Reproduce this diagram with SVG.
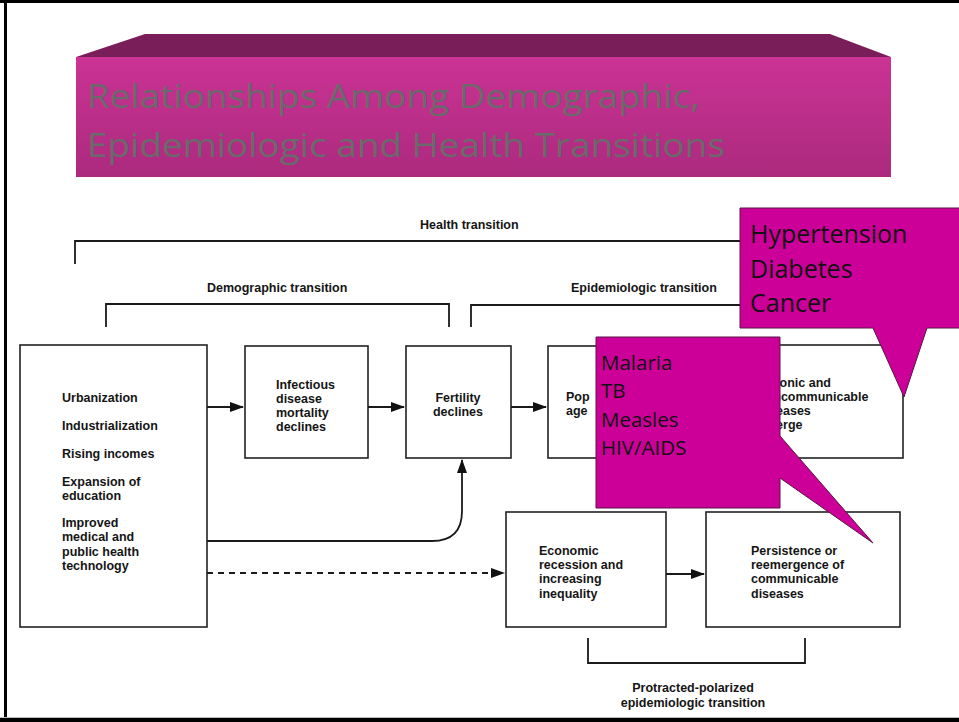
<svg xmlns="http://www.w3.org/2000/svg" width="959" height="722" viewBox="0 0 959 722">
<defs>
<linearGradient id="front" x1="0" y1="0" x2="0" y2="1">
<stop offset="0" stop-color="#cb3395"/>
<stop offset="1" stop-color="#ab2a7e"/>
</linearGradient>
<marker id="ah" viewBox="0 0 14 10" refX="13" refY="5" markerWidth="14" markerHeight="10" markerUnits="userSpaceOnUse" orient="auto">
<path d="M0,0 L14,5 L0,10 Z" fill="#111"/>
</marker>
<style>
.box{fill:#fff;stroke:#222;stroke-width:1.6}
.t{font-family:"Liberation Sans",Arial,sans-serif;font-size:12.5px;font-weight:bold;fill:#151515}
.ln{fill:none;stroke:#1a1a1a;stroke-width:1.8}
.call{fill:#cc0099;stroke:#5a1545;stroke-width:1}
.ct{font-family:"Open Sans","Noto Sans",sans-serif;fill:#111}
</style>
</defs>
<rect x="0" y="0" width="959" height="722" fill="#fff"/>
<g id="frame">
<rect x="0" y="0" width="959" height="3" fill="#000"/>
<rect x="4" y="0" width="3" height="722" fill="#000"/>
<rect x="0" y="717" width="959" height="1" fill="#bbb"/>
<rect x="0" y="718" width="959" height="4" fill="#000"/>
</g>
<g id="title">
<polygon points="145,34 830,34 891,57 76,57" fill="#7a1e59"/>
<rect x="76" y="57" width="815" height="120" fill="url(#front)"/>
<text x="87" y="108" font-family="'Open Sans','Noto Sans',sans-serif" font-size="33" fill="#6a6a6a" textLength="613" lengthAdjust="spacingAndGlyphs">Relationships Among Demographic,</text>
<text x="87" y="157" font-family="'Open Sans','Noto Sans',sans-serif" font-size="33" fill="#6a6a6a" textLength="638" lengthAdjust="spacingAndGlyphs">Epidemiologic and Health Transitions</text>
</g>
<g id="brackets">
<polyline class="ln" points="75,264 75,241 745,241"/>
<polyline class="ln" points="106,327 106,304 449,304 449,327"/>
<polyline class="ln" points="471,327 471,305 745,305"/>
<polyline class="ln" points="588,638 588,663 805,663 805,638"/>
<text class="t" x="420" y="229">Health transition</text>
<text class="t" x="207" y="292">Demographic transition</text>
<text class="t" x="571" y="292">Epidemiologic transition</text>
<text class="t" x="693" y="692" text-anchor="middle">Protracted-polarized</text>
<text class="t" x="693" y="707" text-anchor="middle">epidemiologic transition</text>
</g>
<g id="determinants">
<rect class="box" x="20" y="345" width="187" height="282"/>
<text class="t" x="62" y="402">Urbanization</text>
<text class="t" x="62" y="430">Industrialization</text>
<text class="t" x="62" y="458">Rising incomes</text>
<text class="t" x="62" y="486">Expansion of</text>
<text class="t" x="62" y="500">education</text>
<text class="t" x="62" y="527">Improved</text>
<text class="t" x="62" y="541">medical and</text>
<text class="t" x="62" y="556">public health</text>
<text class="t" x="62" y="570">technology</text>
</g>
<g id="infectious">
<rect class="box" x="245" y="346" width="123" height="112"/>
<text class="t" x="276" y="389">Infectious</text>
<text class="t" x="276" y="403">disease</text>
<text class="t" x="276" y="417">mortality</text>
<text class="t" x="276" y="431">declines</text>
</g>
<g id="fertility">
<rect class="box" x="406" y="346" width="105" height="112"/>
<text class="t" x="458" y="402" text-anchor="middle">Fertility</text>
<text class="t" x="458" y="416" text-anchor="middle">declines</text>
</g>
<g id="aging">
<rect class="box" x="548" y="346" width="140" height="112"/>
<text class="t" x="566" y="401">Pop</text>
<text class="t" x="566" y="415">age</text>
</g>
<g id="chronic">
<rect class="box" x="722" y="345" width="181" height="113"/>
<text class="t" x="758" y="387">Chronic and</text>
<text class="t" x="758" y="401">noncommunicable</text>
<text class="t" x="758" y="415">diseases</text>
<text class="t" x="758" y="429">emerge</text>
</g>
<g id="recession">
<rect class="box" x="506" y="512" width="160" height="115"/>
<text class="t" x="539" y="555">Economic</text>
<text class="t" x="539" y="569">recession and</text>
<text class="t" x="539" y="583">increasing</text>
<text class="t" x="539" y="598">inequality</text>
</g>
<g id="persistence">
<rect class="box" x="706" y="512" width="194" height="115"/>
<text class="t" x="751" y="555">Persistence or</text>
<text class="t" x="751" y="569">reemergence of</text>
<text class="t" x="751" y="583">communicable</text>
<text class="t" x="751" y="598">diseases</text>
</g>
<g id="connectors">
<line class="ln" x1="207" y1="407" x2="243" y2="407" marker-end="url(#ah)"/>
<line class="ln" x1="368" y1="407" x2="404" y2="407" marker-end="url(#ah)"/>
<line class="ln" x1="511" y1="407" x2="546" y2="407" marker-end="url(#ah)"/>
<path class="ln" d="M207,541 L432,541 Q462,541 462,511 L462,460" marker-end="url(#ah)"/>
<line class="ln" x1="207" y1="573" x2="504" y2="573" stroke-dasharray="6,5" marker-end="url(#ah)"/>
<line class="ln" x1="666" y1="574" x2="704" y2="574" marker-end="url(#ah)"/>
</g>
<g id="callout-hypertension">
<path class="call" d="M740,208 L965,208 L965,328 L927,328 L904,397 L873,328 L740,328 Z"/>
<text class="ct" x="750" y="243" font-size="25">Hypertension</text>
<text class="ct" x="750" y="278" font-size="25">Diabetes</text>
<text class="ct" x="750" y="312" font-size="25">Cancer</text>
</g>
<g id="callout-malaria">
<path class="call" d="M596,337 L780,337 L780,436 L873,543 L780,478 L780,508 L596,508 Z"/>
<text class="ct" x="601" y="370" font-size="20.5">Malaria</text>
<text class="ct" x="601" y="398" font-size="20.5">TB</text>
<text class="ct" x="601" y="427" font-size="20.5">Measles</text>
<text class="ct" x="601" y="455" font-size="20.5">HIV/AIDS</text>
</g>
</svg>
